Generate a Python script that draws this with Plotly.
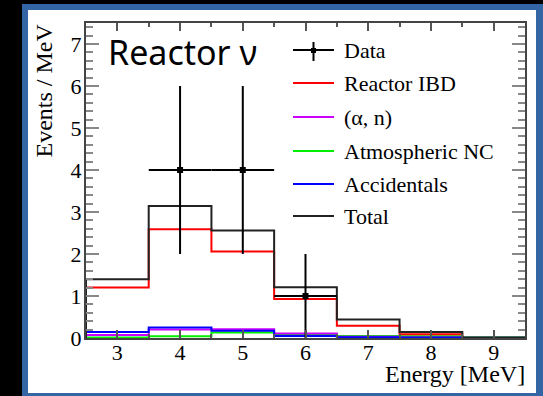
import plotly.graph_objects as go

# Bin edges of the energy histogram (MeV)
bin_edges = [2.5, 3.5, 4.5, 5.5, 6.5, 7.5, 8.5, 9.5]

# Expected events / MeV per bin
reactor_ibd = [1.20, 2.59, 2.06, 0.93, 0.29, 0.09, 0.00]
alpha_n = [0.07, 0.20, 0.21, 0.11, 0.03, 0.01, 0.00]
atmospheric_nc = [0.01, 0.04, 0.13, 0.07, 0.05, 0.04, 0.01]
accidentals = [0.14, 0.25, 0.17, 0.05, 0.02, 0.01, 0.005]
total = [1.40, 3.14, 2.56, 1.21, 0.44, 0.14, 0.01]

# Observed data points
data_x = [4, 5, 6]
data_y = [4, 4, 1]
data_err_up = [2, 2, 1]
data_err_lo = [2, 2, 1]
data_xerr = [0.5, 0.5, 0.5]

W, H = 543, 396
L, R, T, B = 86, 525, 23, 338


def px(x):
    return (x - L) / (R - L)


def py(y):
    return (B - y) / (B - T)


def step(values):
    xs = [bin_edges[0]] + bin_edges + [bin_edges[-1]]
    ys = [0] + values + [values[-1], 0]
    return xs, ys


series = [
    ("Reactor IBD", reactor_ibd, "#ff0000"),
    ("(\u03b1, n)", alpha_n, "#cc00ff"),
    ("Atmospheric NC", atmospheric_nc, "#00ee00"),
    ("Accidentals", accidentals, "#0000ff"),
    ("Total", total, "#222222"),
]

fig = go.Figure()
for name, vals, col in [series[2], series[1], series[3], series[0], series[4]]:
    xs, ys = step(vals)
    fig.add_trace(go.Scatter(x=xs, y=ys, mode="lines", line=dict(color=col, width=2, shape="hv"),
                             name=name, showlegend=False, hoverinfo="skip"))

fig.add_trace(go.Scatter(
    x=data_x, y=data_y, mode="markers", name="Data", showlegend=False,
    marker=dict(symbol="square", size=6, color="black"),
    error_y=dict(type="data", array=data_err_up, arrayminus=data_err_lo, width=0, thickness=2, color="black"),
    error_x=dict(type="data", array=data_xerr, width=0, thickness=2, color="black"),
))

shapes = [
    dict(type="rect", xref="paper", yref="paper", x0=px(22), x1=px(W + 5), y0=py(4), y1=py(H + 5),
         fillcolor="#3465a4", line=dict(width=0), layer="below"),
    dict(type="rect", xref="paper", yref="paper", x0=px(28), x1=px(536), y0=py(10), y1=py(393),
         fillcolor="white", line=dict(width=0), layer="below"),
]

serif = "Liberation Serif"
annotations = []

# Legend drawn as line samples with labels
leg_rows = [50, 83, 117, 151, 184, 216]
leg_names = ["Data"] + [s[0] for s in series]
leg_cols = ["black"] + [s[2] for s in series]
for yy, name, col in zip(leg_rows, leg_names, leg_cols):
    shapes.append(dict(type="line", xref="paper", yref="paper", x0=px(293), x1=px(334), y0=py(yy), y1=py(yy),
                       line=dict(color=col, width=2)))
    annotations.append(dict(text=name, xref="paper", yref="paper", x=px(342), y=py(yy), xanchor="left",
                            yanchor="middle", showarrow=False, font=dict(family=serif, size=22, color="black")))
shapes.append(dict(type="line", xref="paper", yref="paper", x0=px(313.5), x1=px(313.5), y0=py(42), y1=py(61),
                   line=dict(color="black", width=2)))
shapes.append(dict(type="rect", xref="paper", yref="paper", x0=px(311), x1=px(316), y0=py(48), y1=py(53),
                   fillcolor="black", line=dict(width=0)))

annotations += [
    dict(text="Reactor \u03bd", xref="paper", yref="paper", x=px(106), y=py(52), xanchor="left",
         yanchor="middle", showarrow=False, font=dict(family="Noto Sans", size=34, color="black")),
    dict(text="Events / MeV", xref="paper", yref="paper", x=px(43.5), y=py(22), xanchor="center",
         yanchor="top", textangle=-90, showarrow=False, font=dict(family=serif, size=24, color="black")),
    dict(text="Energy [MeV]", xref="paper", yref="paper", x=px(527), y=py(374), xanchor="right",
         yanchor="middle", showarrow=False, font=dict(family=serif, size=24, color="black")),
]

fig.update_layout(
    width=W, height=H,
    margin=dict(l=L, r=W - R, t=T, b=H - B),
    paper_bgcolor="black", plot_bgcolor="white",
    shapes=shapes, annotations=annotations, showlegend=False,
)
fig.update_xaxes(
    range=[2.5, 9.5], dtick=1, tick0=3, ticks="inside", ticklen=8, tickwidth=1.5, tickcolor="#555",
    showline=True, linecolor="#444", linewidth=2, mirror="allticks", showgrid=False, zeroline=False,
    tickfont=dict(family=serif, size=22, color="black"), ticklabelstandoff=-6,
    minor=dict(dtick=0.5, tick0=2.5, ticks="inside", ticklen=4, tickwidth=1.5, tickcolor="#555", showgrid=False),
)
fig.update_yaxes(
    range=[0, 7.5], dtick=1, ticks="inside", ticklen=13, tickwidth=1.5, tickcolor="#888",
    showline=True, linecolor="#444", linewidth=2, mirror="allticks", showgrid=False, zeroline=False,
    tickfont=dict(family=serif, size=22, color="black"), ticklabelstandoff=-2,
    minor=dict(dtick=0.2, ticks="inside", ticklen=7, tickwidth=1.5, tickcolor="#888", showgrid=False),
)

fig.write_html("out.html")
